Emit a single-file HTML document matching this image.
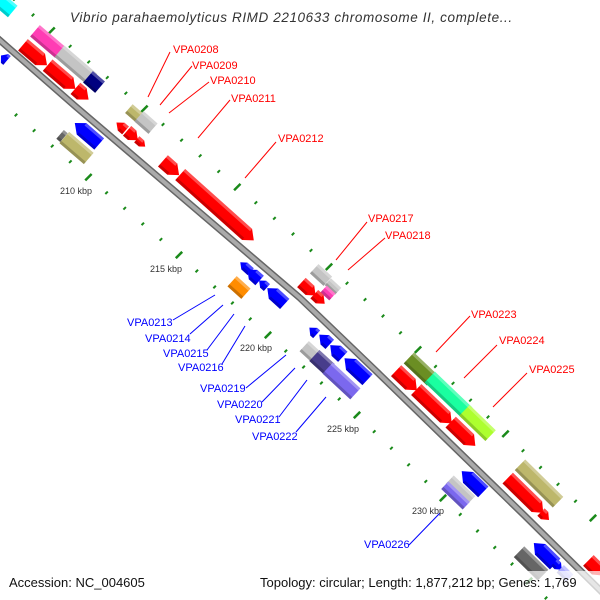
<!DOCTYPE html>
<html><head><meta charset="utf-8"><style>
html,body{margin:0;padding:0;background:#fff;width:600px;height:600px;overflow:hidden}
svg{display:block}
.t{font-family:"Liberation Sans",sans-serif;font-size:11px}
</style></head><body>
<svg id="s" width="600" height="600" viewBox="0 0 600 600" xmlns="http://www.w3.org/2000/svg">
<g id="dots"></g>
<path d="M-5,36 L75,106 L150,170 L225,234 L300,298 L375,370 L450,443 L525,516 L605,595" fill="none" stroke="#666" stroke-width="7" stroke-linejoin="round"/>
<path d="M-5,36 L75,106 L150,170 L225,234 L300,298 L375,370 L450,443 L525,516 L605,595" fill="none" stroke="#aaa" stroke-width="4" stroke-linejoin="round"/>
<g id="feat"></g>
<g stroke-width="1">
<g stroke="#f00">
<line x1="170" y1="52" x2="148" y2="97"/><line x1="192" y1="66" x2="160" y2="105"/>
<line x1="209" y1="82" x2="169" y2="113"/><line x1="230" y1="100" x2="198" y2="138"/>
<line x1="276" y1="142" x2="245" y2="178"/><line x1="367" y1="222" x2="336" y2="260"/>
<line x1="385" y1="238" x2="348" y2="270"/><line x1="470" y1="316" x2="436" y2="352"/>
<line x1="497" y1="345" x2="464" y2="378"/><line x1="527" y1="373" x2="493" y2="407"/>
</g>
<g stroke="#00f">
<line x1="173" y1="320" x2="215" y2="295"/><line x1="190" y1="334" x2="223" y2="305"/>
<line x1="207" y1="350" x2="234" y2="314"/><line x1="222" y1="364" x2="245" y2="326"/>
<line x1="246" y1="388" x2="286" y2="355"/><line x1="262" y1="402" x2="295" y2="368"/>
<line x1="279" y1="417" x2="307" y2="380"/><line x1="296" y1="432" x2="326" y2="397"/>
<line x1="409" y1="545" x2="440" y2="513"/>
</g></g>
<g class="t" fill="#f00">
<text x="173" y="53">VPA0208</text><text x="192" y="69">VPA0209</text>
<text x="210" y="84">VPA0210</text><text x="231" y="102">VPA0211</text>
<text x="278" y="142">VPA0212</text><text x="368" y="222">VPA0217</text>
<text x="385" y="239">VPA0218</text><text x="471" y="318">VPA0223</text>
<text x="499" y="344">VPA0224</text><text x="529" y="373">VPA0225</text>
</g>
<g class="t" fill="#00f">
<text x="127" y="326">VPA0213</text><text x="145" y="342">VPA0214</text>
<text x="163" y="357">VPA0215</text><text x="178" y="371">VPA0216</text>
<text x="200" y="392">VPA0219</text><text x="217" y="408">VPA0220</text>
<text x="235" y="423">VPA0221</text><text x="252" y="440">VPA0222</text>
<text x="364" y="548">VPA0226</text>
</g>
<g font-family="Liberation Sans,sans-serif" font-size="9" fill="#333">
<text x="60" y="194">210 kbp</text><text x="150" y="272">215 kbp</text>
<text x="240" y="351">220 kbp</text><text x="327" y="432">225 kbp</text>
<text x="412" y="514">230 kbp</text>
</g>
<text x="70" y="22" font-family="Liberation Sans,sans-serif" font-style="italic" font-size="13.5" letter-spacing="0.6" fill="#333">Vibrio parahaemolyticus RIMD 2210633 chromosome II, complete...</text>
<rect x="255" y="571" width="345" height="24" fill="#fff" opacity="0.7"/>
<text x="9" y="587" font-family="Liberation Sans,sans-serif" font-size="13" fill="#111">Accession: NC_004605</text>
<text x="260" y="587" font-family="Liberation Sans,sans-serif" font-size="13" fill="#111">Topology: circular; Length: 1,877,212 bp; Genes: 1,769</text>
</svg>
<script>
var NS="http://www.w3.org/2000/svg";
function interp(anch,i){for(var k=0;k<anch.length-1;k++){var a=anch[k],b=anch[k+1];if(i<=b[0]||k==anch.length-2){var t=(i-a[0])/(b[0]-a[0]);return[a[1]+t*(b[1]-a[1]),a[2]+t*(b[2]-a[2])];}}}
var dg=document.getElementById("dots");
function row(anch,n0,n1,dashMod){for(var i=n0;i<=n1;i++){var p=interp(anch,i);var r=document.createElementNS(NS,"rect");var d=(i%5==dashMod);var w=d?2.5:2,h=d?9:3.5;r.setAttribute("x",-w/2);r.setAttribute("y",-h/2);r.setAttribute("width",w);r.setAttribute("height",h);r.setAttribute("fill","#1a8a1a");r.setAttribute("transform","translate("+p[0]+","+p[1]+") rotate(45)");dg.appendChild(r);}}
row([[0,33,15],[14,293,234],[19,383,316],[31,593,518],[33,629,552]],-1,33,1);
row([[0,16,115],[9,179,255],[19,357,415],[24,443,498],[28,512,564],[30,546,598]],-1,30,4);
var fg=document.getElementById("feat");
function F(x1,y1,x2,y2,col,type,T){T=(T||13)*1.15;var cx=(x1+x2)/2,cy=(y1+y2)/2;var a=40+5*(cx/600);var ar=a*Math.PI/180;var c=Math.cos(ar),s=Math.sin(ar);var L=((x2-x1)+(y2-y1))/(c+s)-0.55*T;if(L<4)L=4;
var h=L/2,t=T/2,tip=Math.min(T*0.6,L*0.6),pts;
if(type=="f")pts=[[-h,-t],[h-tip,-t],[h,0],[h-tip,t],[-h,t]];
else if(type=="b")pts=[[h,-t],[-h+tip,-t],[-h,0],[-h+tip,t],[h,t]];
else pts=[[-h,-t],[h,-t],[h,t],[-h,t]];
var g=document.createElementNS(NS,"g");g.setAttribute("transform","translate("+cx+","+cy+") rotate("+a+")");
var p=document.createElementNS(NS,"polygon");p.setAttribute("points",pts.map(function(q){return q.join(",")}).join(" "));p.setAttribute("fill",col);g.appendChild(p);
var top=pts.filter(function(q){return q[1]<0});var ps=top.map(function(q){return q[0]+","+q[1]});ps.push(top[top.length-1][0]+","+(-t+3));ps.push(top[0][0]+","+(-t+3));var p2=document.createElementNS(NS,"polygon");p2.setAttribute("points",ps.join(" "));p2.setAttribute("fill","#fff");p2.setAttribute("opacity","0.3");g.appendChild(p2);
var bot=pts.filter(function(q){return q[1]>0});var ps3=bot.map(function(q){return q[0]+","+q[1]});ps3.push(bot[bot.length-1][0]+","+(t-3));ps3.push(bot[0][0]+","+(t-3));var p3=document.createElementNS(NS,"polygon");p3.setAttribute("points",ps3.join(" "));p3.setAttribute("fill","#000");p3.setAttribute("opacity","0.2");g.appendChild(p3);
fg.appendChild(g);}
var R="#ff0000",B="#0000ff",G="#c4c4c4",K="#bdb76b";
F(-5,-5,15,15,"#00ffff","r");
F(0,52,8,64,B,"b",10);
F(32,28,63,55,"#ff3cb4","r");
F(57,48,95,83,G,"r");
F(85,74,103,90,"#000080","r");
F(20,42,50,68,R,"f");F(45,62,78,92,R,"f");F(73,85,91,103,R,"f");
F(127,106,143,122,K,"r",10);F(137,113,155,132,G,"r",12);
F(115,120,127,133,R,"b",9);F(125,128,140,143,R,"f",11);F(136,137,146,149,R,"f",7);
F(72,120,102,147,B,"b");F(58,132,66,140,"#666","r",10);F(62,134,91,162,K,"r");
F(160,158,182,178,R,"f");F(177,172,257,243,R,"f");
F(238,261,253,273,B,"b",8);F(245,267,262,283,B,"b",11);F(258,278,268,290,B,"b",8);F(265,285,287,307,B,"b",12);
F(230,278,248,297,"#ff8c00","r",12);
F(312,266,330,284,G,"r",11);F(326,280,340,293,G,"r",8);F(322,287,334,299,"#ff3cb4","r",8);
F(299,280,318,298,R,"f",11);F(312,292,327,306,R,"f",10);
F(308,325,318,337,B,"b",9);F(317,332,332,347,B,"b",11);F(328,342,345,360,B,"b",12);F(342,355,370,383,B,"b");
F(302,343,318,360,G,"r",12);F(312,352,332,373,"#483d8b","r");F(325,365,358,397,"#7b68ee","r");
F(406,355,435,383,"#6b8e23","r");F(427,374,470,416,"#1affa0","r");F(462,407,493,439,"#adff2f","r");
F(393,368,420,393,R,"f");F(413,387,455,426,R,"f");F(448,419,478,449,R,"f");
F(459,468,486,495,B,"b");F(448,477,473,503,G,"r",10);F(443,483,468,508,"#7b68ee","r",9);
F(517,462,561,505,K,"r");F(504,476,547,515,R,"f");F(539,510,551,522,R,"f",9);
F(515,550,547,577,"#666","r");F(531,540,558,567,B,"b");F(553,560,563,572,B,"f",8);F(558,567,572,580,"#aaaaff","r",9);
F(587,556,605,580,R,"f");
</script>
</body></html>
